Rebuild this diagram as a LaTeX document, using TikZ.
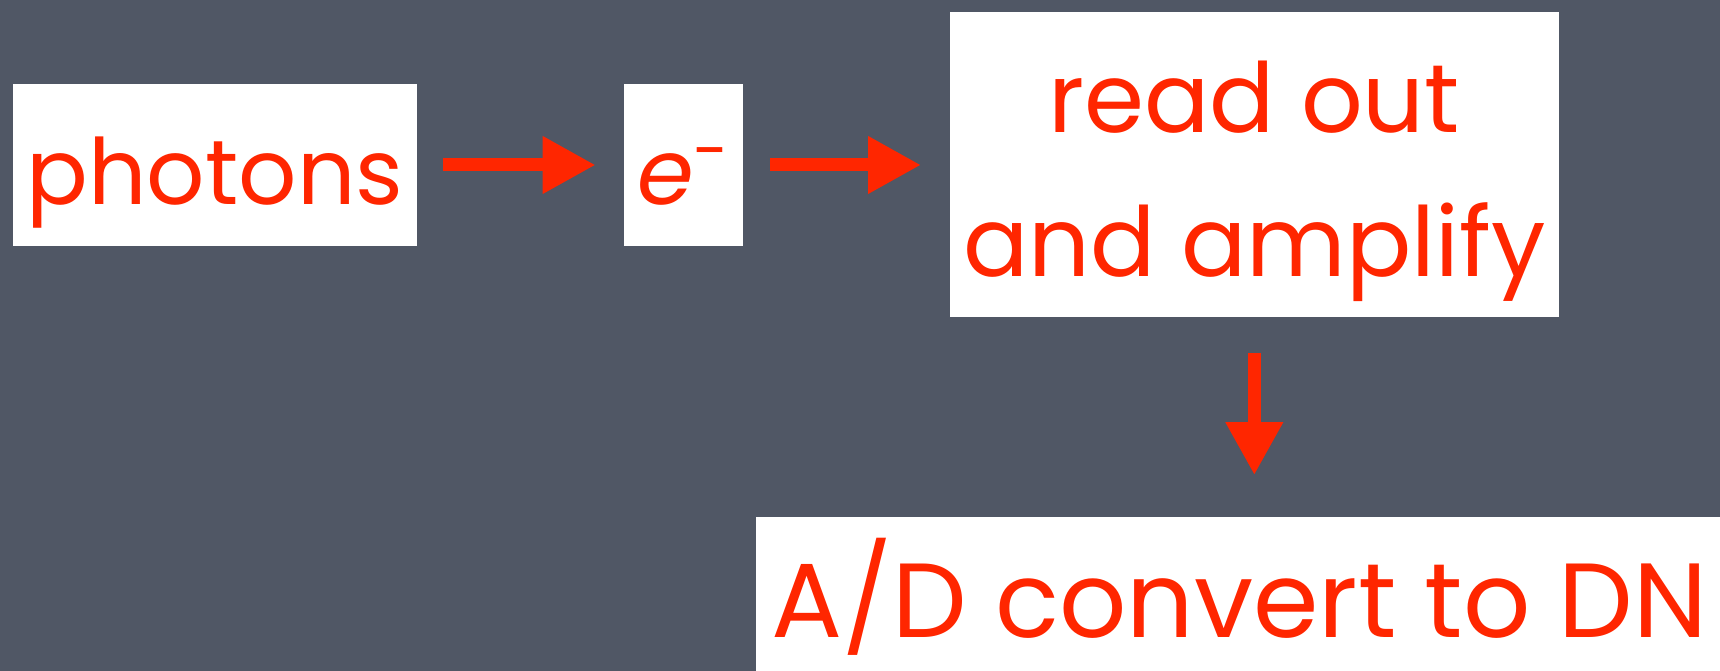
\documentclass[tikz,border=0pt]{standalone}
\usepackage{fontspec}
\setmainfont{Poppins}
\usetikzlibrary{arrows.meta, positioning}
\definecolor{slate}{RGB}{80,87,101}
\definecolor{chalkred}{RGB}{255,38,0}

\begin{document}
\begin{tikzpicture}[
    box/.style={rectangle, fill=white, inner sep=0pt, align=center, text=chalkred, text height=0.8cm, text depth=0pt},
    flow/.style={-{Triangle[length=0.53cm, width=0.54cm]}, line width=0.13cm, color=chalkred}
]
\fill[slate] (0,0) rectangle (17.2,-6.71);
\clip (0,0) rectangle (17.2,-6.71);
\useasboundingbox (0,0) rectangle (17.2,-6.71);
\node[box, minimum width=4.04cm, minimum height=1.62cm, font=\fontsize{26}{41}\selectfont] (photons) at (2.15,-1.65) {photons};
\node[box, minimum width=1.19cm, minimum height=1.62cm, right=2.06cm of photons, font=\fontsize{26}{41}\selectfont] (elec) {\textit{e}\textsuperscript{-}};
\node[box, minimum width=6.09cm, minimum height=3.05cm, right=2.05cm of elec, text height=2.23cm, font=\fontsize{27.5}{41}\selectfont] (readout) {read out\\and amplify};
\node[box, minimum width=9.67cm, minimum height=1.55cm, below=1.98cm of readout, xshift=-0.15cm, text height=0.87cm, font=\fontsize{30}{41}\selectfont] (adc) {A/D convert to DN};
\draw[flow, shorten <=0.25cm, shorten >=0.28cm] (photons) -- (elec);
\draw[flow, shorten <=0.26cm, shorten >=0.28cm] (elec) -- (readout);
\draw[flow, shorten <=0.35cm, shorten >=0.41cm] (readout.south) -- (readout.south |- adc.north);
\end{tikzpicture}
\end{document}
